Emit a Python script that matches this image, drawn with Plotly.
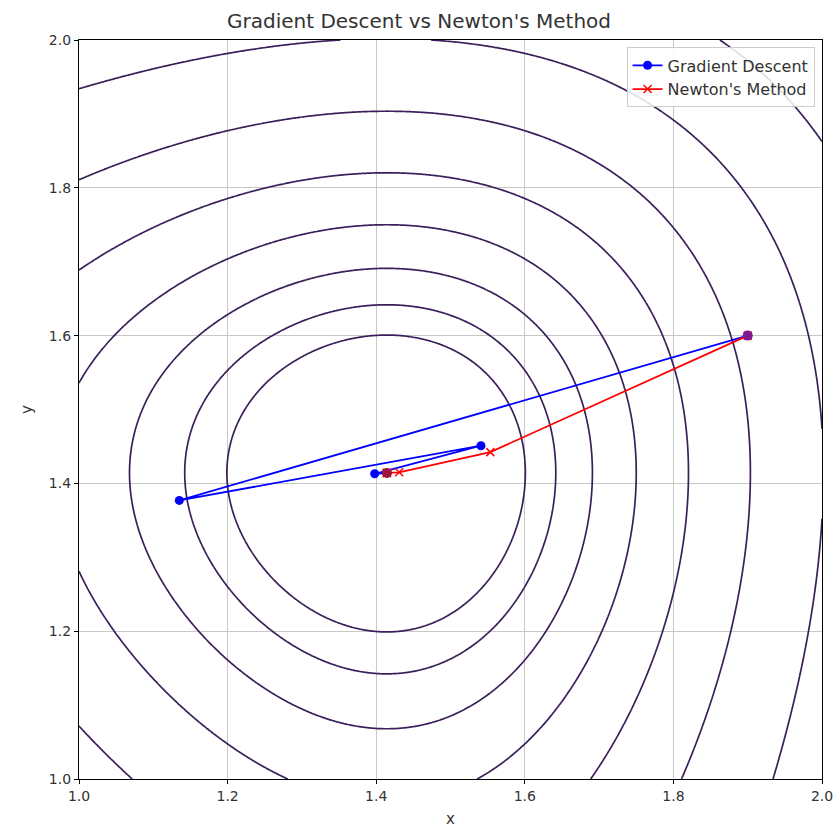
import numpy as np
import plotly.graph_objects as go

# ---- data ----
gd_x = [1.900, 1.135, 1.541, 1.398, 1.414]
gd_y = [1.600, 1.377, 1.451, 1.413, 1.414]

newton_x = [1.900, 1.5536, 1.4309, 1.4145, 1.4142]
newton_y = [1.600, 1.4423, 1.4150, 1.4142, 1.4142]

start_point = ([1.900], [1.600])
end_point = ([1.4145], [1.4142])

tick_vals = [1.0, 1.2, 1.4, 1.6, 1.8, 2.0]
tick_text = ["1.0", "1.2", "1.4", "1.6", "1.8", "2.0"]

# contour levels: 20 log-spaced levels from 10^-0.5 to 10^3
level_log_start = -0.5
level_log_end = 3.0
n_levels = 20

# objective surface f(x, y) = (x^2 - 2)^2 + (y^2 - 2)^2 on the plotted window
grid = np.linspace(1.0, 2.0, 501)
X, Y = np.meshgrid(grid, grid)
F = (X**2 - 2) ** 2 + (Y**2 - 2) ** 2
Z = np.log10(F + 1e-12)

line_col = "#3a1f5a"

fig = go.Figure()
fig.add_trace(go.Contour(
    x=grid, y=grid, z=Z,
    contours=dict(coloring="lines", start=level_log_start, end=level_log_end,
                  size=(level_log_end - level_log_start) / (n_levels - 1)),
    colorscale=[[0, line_col], [1, line_col]],
    line=dict(width=1.7), showscale=False, showlegend=False, hoverinfo="skip",
))
fig.add_trace(go.Scatter(
    x=gd_x, y=gd_y, mode="lines+markers", name="Gradient Descent",
    line=dict(color="#0000ff", width=1.8),
    marker=dict(color="#0000ff", size=9, symbol="circle"),
))
fig.add_trace(go.Scatter(
    x=newton_x, y=newton_y, mode="lines+markers", name="Newton's Method",
    line=dict(color="#ff0000", width=1.8),
    marker=dict(symbol="x-thin", size=8, line=dict(color="#ff0000", width=1.5), color="#ff0000"),
))
fig.add_trace(go.Scatter(
    x=start_point[0], y=start_point[1], mode="markers", showlegend=False,
    marker=dict(color="#7d1a95", size=10, symbol="circle"),
))
fig.add_trace(go.Scatter(
    x=end_point[0], y=end_point[1], mode="markers", showlegend=False,
    marker=dict(color="#a0143c", size=10, symbol="circle"),
))

axis_common = dict(
    range=[1.0, 2.0], tickvals=tick_vals, ticktext=tick_text,
    showline=True, linecolor="black", linewidth=1.2, mirror=True,
    ticks="outside", ticklen=4, tickcolor="black", automargin=False,
    showgrid=True, gridcolor="#c8c8c8", gridwidth=1, zeroline=False,
    tickfont=dict(size=14, color="#333"),
)
fig.update_layout(
    width=838, height=831,
    margin=dict(l=79, r=16, t=40, b=52),
    paper_bgcolor="white", plot_bgcolor="white",
    font=dict(family="DejaVu Sans", color="#333"),
    title=dict(text="Gradient Descent vs Newton's Method", x=0.5, xref="container",
               xanchor="center", y=1 - 21 / 831, yref="container", yanchor="middle",
               font=dict(size=20, color="#333")),
    xaxis=dict(**axis_common, title=dict(text="x", font=dict(size=15), standoff=10)),
    yaxis=dict(**axis_common, title=dict(text="y", font=dict(size=15), standoff=12)),
    legend=dict(x=0.99, y=0.99, xanchor="right", yanchor="top",
                bgcolor="rgba(255,255,255,0.85)", bordercolor="#cccccc", borderwidth=1,
                font=dict(size=16, color="#333")),
)
fig.write_html("out.html")
